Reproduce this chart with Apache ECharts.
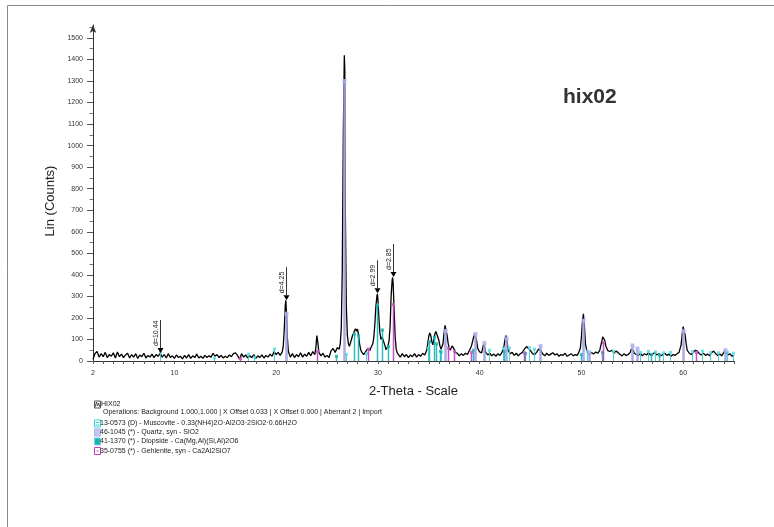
<!DOCTYPE html>
<html><head><meta charset="utf-8">
<script src="https://cdn.jsdelivr.net/npm/echarts@6/dist/echarts.min.js"></script>
<style>html,body{margin:0;padding:0;background:#fff}#c{width:774px;height:527px}</style>
</head><body><div id="c"></div>
<script>
// ---- scan (2-Theta, Lin counts) ----
const scanLow = [
[2.0,8],[2.2,35],[2.4,44],[2.6,18],[2.8,34],[3.0,20],[3.2,40],[3.4,16],[3.6,30],[3.8,22],
[4.0,38],[4.2,14],[4.4,42],[4.6,20],[4.8,32],[5.0,16],[5.2,28],[5.4,36],[5.6,14],[5.8,30],
[6.0,18],[6.2,34],[6.4,12],[6.6,28],[6.8,20],[7.0,36],[7.2,14],[7.4,26],[7.6,18],[7.8,32],
[8.0,16],[8.2,30],[8.4,22],[8.6,36],[8.8,18],[9.0,30],[9.2,14],[9.4,34],[9.6,16],[9.8,24],
[10.0,12],[10.2,28],[10.4,16],[10.6,22],[10.8,10],[11.0,26],[11.2,14],[11.4,30],[11.6,12],[11.8,24],
[12.0,16],[12.2,32],[12.4,14],[12.6,22],[12.8,12],[13.0,26],[13.2,16],[13.4,24],[13.6,18],[13.8,36],
[14.0,22],[14.2,30],[14.4,16],[14.6,26],[14.8,14],[15.0,22],[15.2,16],[15.4,28],[15.6,20],[15.8,34],
[16.0,38],[16.2,26],[16.4,8],[16.6,34],[16.8,18],[17.0,28],[17.2,14],[17.4,24],[17.6,16],[17.8,30],
[18.0,12],[18.2,24],[18.4,16],[18.6,28],[18.8,14],[19.0,26],[19.2,18],[19.4,32],[19.6,22],[19.8,44],
[20.0,30],[20.2,40]
];
const scanMid = [
[20.4,26],[20.6,42],[20.7,70],[20.8,150],[20.9,260],[20.95,282],[21.0,240],[21.1,110],[21.2,45],[21.3,30],
[21.4,18],[21.6,34],[21.8,16],[22.0,30],[22.2,20],[22.4,38],[22.6,18],[22.8,32],[23.0,22],[23.2,40],
[23.4,24],[23.6,44],[23.8,30],[23.9,60],[24.0,118],[24.1,85],[24.2,40],[24.4,24],[24.6,36],[24.8,18],
[25.0,26],[25.2,16],[25.4,48],[25.6,58],[25.8,40],[26.0,62],[26.2,55],[26.3,80],[26.4,150],[26.5,420],
[26.6,1050],[26.7,1420],[26.75,1350],[26.8,700],[26.9,250],[27.0,120],[27.1,80],[27.2,68],[27.3,75],[27.4,100],
[27.5,118],[27.6,128],[27.7,140],[27.8,150],[27.9,138],[28.0,148],[28.1,120],[28.2,80],[28.3,55],[28.4,42],
[28.6,30],[28.8,44],[29.0,58],[29.1,64],[29.2,48],[29.3,60],[29.4,52],[29.5,80],[29.6,110],[29.7,170],
[29.8,250],[29.9,300],[29.95,312],[30.0,290],[30.1,200],[30.2,130],[30.3,100],[30.4,112],[30.5,100],[30.6,85],
[30.7,70],[30.8,52],[30.9,60],[31.0,72],[31.1,95],[31.2,160],[31.3,300],[31.4,375],[31.45,388],[31.5,360],
[31.6,230],[31.7,110],[31.8,55],[31.9,38],[32.0,30],[32.2,18],[32.4,34],[32.6,20],[32.8,30],[33.0,16],
[33.2,28],[33.4,20],[33.6,34],[33.8,18],[34.0,30]
];
const scanHigh = [
[34.2,22],[34.4,36],[34.6,28],[34.8,50],[34.9,80],[35.0,115],[35.1,130],[35.2,118],[35.3,90],[35.4,75],
[35.5,100],[35.6,125],[35.7,137],[35.8,130],[35.9,110],[36.0,95],[36.1,70],[36.2,55],[36.3,50],[36.4,80],
[36.5,130],[36.6,165],[36.7,172],[36.8,120],[36.9,84],[37.0,60],[37.1,50],[37.2,55],[37.3,70],[37.4,75],
[37.5,55],[37.6,40],[37.8,36],[38.0,24],[38.2,34],[38.4,26],[38.6,36],[38.8,30],[39.0,50],[39.2,70],
[39.3,90],[39.4,110],[39.5,128],[39.6,130],[39.7,95],[39.8,60],[40.0,42],[40.2,38],[40.3,60],[40.4,80],
[40.5,72],[40.6,40],[40.8,28],[41.0,36],[41.2,24],[41.4,32],[41.6,22],[41.8,34],[42.0,26],[42.2,40],
[42.4,70],[42.5,105],[42.6,118],[42.7,90],[42.8,50],[43.0,34],[43.2,40],[43.4,26],[43.6,36],[43.8,24],
[44.0,34],[44.2,40],[44.4,55],[44.6,67],[44.7,62],[44.8,58],[45.0,48],[45.2,34],[45.4,30],[45.6,40],
[45.8,55],[45.9,60],[46.0,50],[46.2,32],[46.4,24],[46.6,36],[46.8,26],[47.0,32],[47.2,38],[47.4,28],
[47.6,34],[47.8,22],[48.0,30],[48.2,26],[48.4,36],[48.6,22],[48.8,28],[49.0,34],[49.2,24],[49.4,30],
[49.6,26],[49.8,46],[49.9,60],[50.0,110],[50.1,180],[50.2,219],[50.3,160],[50.4,80],[50.5,55],[50.6,40],
[50.8,30],[51.0,40],[51.2,32],[51.4,42],[51.6,36],[51.8,48],[51.9,70],[52.0,90],[52.1,112],[52.2,121],
[52.3,95],[52.4,70],[52.6,48],[52.8,44],[53.0,50],[53.2,36],[53.4,46],[53.6,40],[53.8,30],[54.0,24],
[54.2,34],[54.4,26],[54.6,30],[54.8,40],[54.9,55],[55.0,62],[55.1,50],[55.2,36],[55.4,30],[55.6,26],
[55.8,36],[56.0,24],[56.2,34],[56.4,28],[56.6,38],[56.8,26],[57.0,32],[57.2,40],[57.4,28],[57.6,34],
[57.8,24],[58.0,30],[58.2,36],[58.4,26],[58.6,32],[58.8,22],[59.0,30],[59.2,26],[59.4,34],[59.6,40],
[59.8,75],[59.9,120],[60.0,160],[60.1,163],[60.2,120],[60.3,80],[60.4,50],[60.6,36],[60.8,30],[61.0,40],
[61.2,50],[61.3,55],[61.4,46],[61.6,34],[61.8,28],[62.0,36],[62.2,26],[62.4,32],[62.6,24],[62.8,38],
[63.0,46],[63.2,34],[63.4,26],[63.6,32],[63.8,24],[64.0,40],[64.1,50],[64.2,42],[64.4,28],[64.6,34],
[64.8,22],[65.0,28]
];

// ---- reference patterns (stick positions and heights) ----
const muscoviteSticks = [[8.6,42],[13.9,14],[17.2,32],[17.8,18],[19.75,56],[26.85,30],[28.8,34],[34.95,60],[36.2,40],
  [40.9,50],[42.3,58],[42.9,60],[44.9,62],[45.3,55],[50.6,45],[53.1,45],[55.8,40],[56.5,45],[57.2,42],[58.0,38],
  [58.7,40],[60.9,44],[61.9,46],[62.6,40],[63.4,38],[64.3,42],[64.9,36]];
const quartzSticks = [[20.95,220],[26.7,1300],[36.6,140],[39.55,125],[40.4,84],[42.55,105],[45.9,70],[50.2,188],
  [50.7,40],[54.95,72],[55.45,58],[60.0,140],[64.1,50]];
const diopsideSticks = [[25.9,22],[27.7,125],[28.0,118],[29.95,260],[30.45,144],[30.95,67],[35.0,90],[35.55,110],
  [35.75,80],[36.1,45],[39.3,50],[42.4,45],[44.5,35],[49.95,30],[52.0,40],[56.8,30],[57.6,28]];
const gehleniteSticks = [[16.45,12],[24.05,45],[29.05,55],[31.45,262],[36.85,60],[37.5,45],[39.2,40],[44.35,38],
  [52.1,85],[61.3,40]];

// ---- peak annotations ----
const annoTheta = [8.6, 20.95, 29.95, 31.45];
const annoCounts = [37, 282, 314, 390];
const annoLabels = ['d=10.44', 'd=4.25', 'd=2.99', 'd=2.85'];

// ---- axis ticks ----
const yLabelValues = [0,100,200,300,400,500,600,700,800,900,1000,1100,1200,1300,1400,1500];
const xLabelValues = [2,10,20,30,40,50,60];

// ---- legend texts ----
const sampleName = 'HIX02';
const operationsText = 'Operations: Background 1.000,1.000 | X Offset 0.033 | X Offset 0.000 | Aberrant 2 | Import';
const phaseNames = [
  '13-0573 (D) - Muscovite - 0.33(NH4)2O·Al2O3·2SiO2·0.66H2O',
  '46-1045 (*) - Quartz, syn - SiO2',
  '41-1370 (*) - Diopside - Ca(Mg,Al)(Si,Al)2O6',
  '35-0755 (*) - Gehlenite, syn - Ca2Al2SiO7'
];

const FONT = '"Liberation Sans", Arial, Helvetica, sans-serif';
const C_MUS = '#3ccfcf', C_QTZ = '#a2a2e4', C_DIO = '#16b4b4', C_GEH = '#c23cc2';

function stickSeries(name, data, color, width, markerFill, markerSize) {
  return {
    type: 'custom', name: name, data: data, z: 3, silent: true,
    renderItem: function (params, api) {
      const b = api.coord([api.value(0), 0]);
      const t = api.coord([api.value(0), api.value(1)]);
      const x = Math.round(t[0]) + 0.5;
      const h = markerSize / 2;
      return { type: 'group', children: [
        { type: 'line', shape: { x1: x, y1: b[1], x2: x, y2: t[1] }, style: { stroke: color, lineWidth: width, opacity: 0.9 } },
        { type: 'rect', shape: { x: x - h, y: t[1] - h, width: markerSize, height: markerSize }, style: { fill: markerFill, opacity: 0.85 } }
      ]};
    }
  };
}

const chart = echarts.init(document.getElementById('c'), null, { renderer: 'canvas' });

function t(x, y, s, extra) {
  return { type: 'text', x: x, y: y, z: 10, style: Object.assign({ text: s, fill: '#222', fontSize: 7, fontFamily: FONT, align: 'left', verticalAlign: 'middle' }, extra || {}) };
}
const legY = [404.5, 412.5, 423.5, 432.5, 441.5, 451];
const graphics = [
  { type: 'line', shape: { x1: 7.5, y1: 5.5, x2: 774, y2: 5.5 }, style: { stroke: '#8a8a8a', lineWidth: 1 } },
  { type: 'line', shape: { x1: 7.5, y1: 5.5, x2: 7.5, y2: 527 }, style: { stroke: '#8a8a8a', lineWidth: 1 } },
  t(563, 97.5, 'hix02', { fontSize: 21, fontWeight: 'bold', fill: '#333' }),
  { type: 'rect', shape: { x: 94.5, y: 401, width: 6, height: 7 }, style: { fill: '#fff', stroke: '#555', lineWidth: 1 } },
  { type: 'polyline', shape: { points: [[95, 407], [96.5, 402], [97.5, 406], [98.5, 403], [100, 407]] }, style: { stroke: '#333', lineWidth: 0.8, fill: null } },
  t(101, legY[0], sampleName),
  t(103, legY[1], operationsText),
  { type: 'rect', shape: { x: 94.5, y: legY[2] - 3.5, width: 6, height: 7 }, style: { fill: '#fff', stroke: C_MUS, lineWidth: 1 } },
  { type: 'line', shape: { x1: 95.5, y1: legY[2] - 1, x2: 99.5, y2: legY[2] - 1 }, style: { stroke: C_MUS, lineWidth: 1 } },
  { type: 'line', shape: { x1: 95.5, y1: legY[2] + 1.5, x2: 99.5, y2: legY[2] + 1.5 }, style: { stroke: C_MUS, lineWidth: 1 } },
  t(100, legY[2], phaseNames[0]),
  { type: 'rect', shape: { x: 94.5, y: legY[3] - 3.5, width: 6, height: 7 }, style: { fill: '#c6c6f2', stroke: '#b0b0e6', lineWidth: 1 } },
  t(100, legY[3], phaseNames[1]),
  { type: 'rect', shape: { x: 94.5, y: legY[4] - 3.5, width: 6, height: 7 }, style: { fill: C_DIO, stroke: '#7fd6d6', lineWidth: 1 } },
  t(100, legY[4], phaseNames[2]),
  { type: 'rect', shape: { x: 94.5, y: legY[5] - 3.5, width: 6, height: 7 }, style: { fill: '#fff', stroke: C_GEH, lineWidth: 1 } },
  { type: 'rect', shape: { x: 96.5, y: legY[5] - 0.5, width: 2, height: 1 }, style: { fill: C_GEH } },
  t(100, legY[5], phaseNames[3])
];

chart.setOption({
  animation: false,
  backgroundColor: '#fff',
  textStyle: { fontFamily: FONT },
  grid: { left: 93, right: 40, top: 25, bottom: 166, containLabel: false },
  xAxis: {
    type: 'value', min: 2, max: 65, interval: 1,
    name: '2-Theta - Scale', nameLocation: 'middle', nameGap: 24,
    nameTextStyle: { fontSize: 13, color: '#222', fontFamily: FONT },
    axisLine: { show: true, onZero: false, lineStyle: { color: '#333', width: 1 } },
    axisTick: { show: true, length: 3, inside: false, lineStyle: { color: '#555' } },
    axisLabel: { fontSize: 7, color: '#333', margin: 9, fontFamily: FONT,
      formatter: function (v) { return xLabelValues.indexOf(v) >= 0 ? String(v) : ''; } },
    splitLine: { show: false }
  },
  yAxis: {
    type: 'value', min: 0, max: 1560, interval: 100,
    name: 'Lin (Counts)', nameLocation: 'middle', nameGap: 24,
    nameTextStyle: { fontSize: 13, color: '#222', fontFamily: FONT, padding: [0, 16, 0, 0] },
    axisLine: { show: true, lineStyle: { color: '#333', width: 1 }, symbol: ['none', 'arrow'], symbolSize: [5, 8], symbolOffset: [0, 0] },
    axisTick: { show: true, length: 6, lineStyle: { color: '#555' }, customValues: yLabelValues },
    minorTick: { show: true, splitNumber: 2, length: 3.5, lineStyle: { color: '#777' } },
    axisLabel: { fontSize: 7, color: '#333', margin: 10, fontFamily: FONT, customValues: yLabelValues,
      formatter: function (v) { return yLabelValues.indexOf(v) >= 0 ? String(v) : ''; } },
    splitLine: { show: false }
  },
  graphic: graphics,
  series: [
    { type: 'line', name: 'HIX02', data: scanLow.concat(scanMid, scanHigh), showSymbol: false, symbol: 'none',
      lineStyle: { color: '#000', width: 1.3 }, z: 2, silent: true },
    stickSeries('Muscovite', muscoviteSticks, C_MUS, 1, '#58dede', 3),
    stickSeries('Diopside', diopsideSticks, C_DIO, 1.5, C_DIO, 3),
    stickSeries('Gehlenite', gehleniteSticks, C_GEH, 1.5, '#cc55cc', 3),
    stickSeries('Quartz', quartzSticks, C_QTZ, 2.5, '#b2b2ee', 4),
    { type: 'custom', name: 'peaks', z: 6, silent: true,
      data: annoTheta.map(function (v, i) { return [v, annoCounts[i]]; }),
      renderItem: function (params, api) {
        const p = api.coord([api.value(0), api.value(1)]);
        const x = Math.round(p[0]) + 0.5, y = p[1];
        return { type: 'group', children: [
          { type: 'polygon', shape: { points: [[x - 3, y - 5], [x + 3, y - 5], [x, y]] }, style: { fill: '#000' } },
          { type: 'line', shape: { x1: x, y1: y - 5, x2: x, y2: y - 33 }, style: { stroke: '#333', lineWidth: 1 } },
          { type: 'text', x: x - 1, y: y - 7, rotation: Math.PI / 2,
            style: { text: annoLabels[params.dataIndex], fill: '#222', fontSize: 7, fontFamily: FONT, align: 'left', verticalAlign: 'bottom' } }
        ]};
      }
    }
  ]
});
</script>
</body></html>
